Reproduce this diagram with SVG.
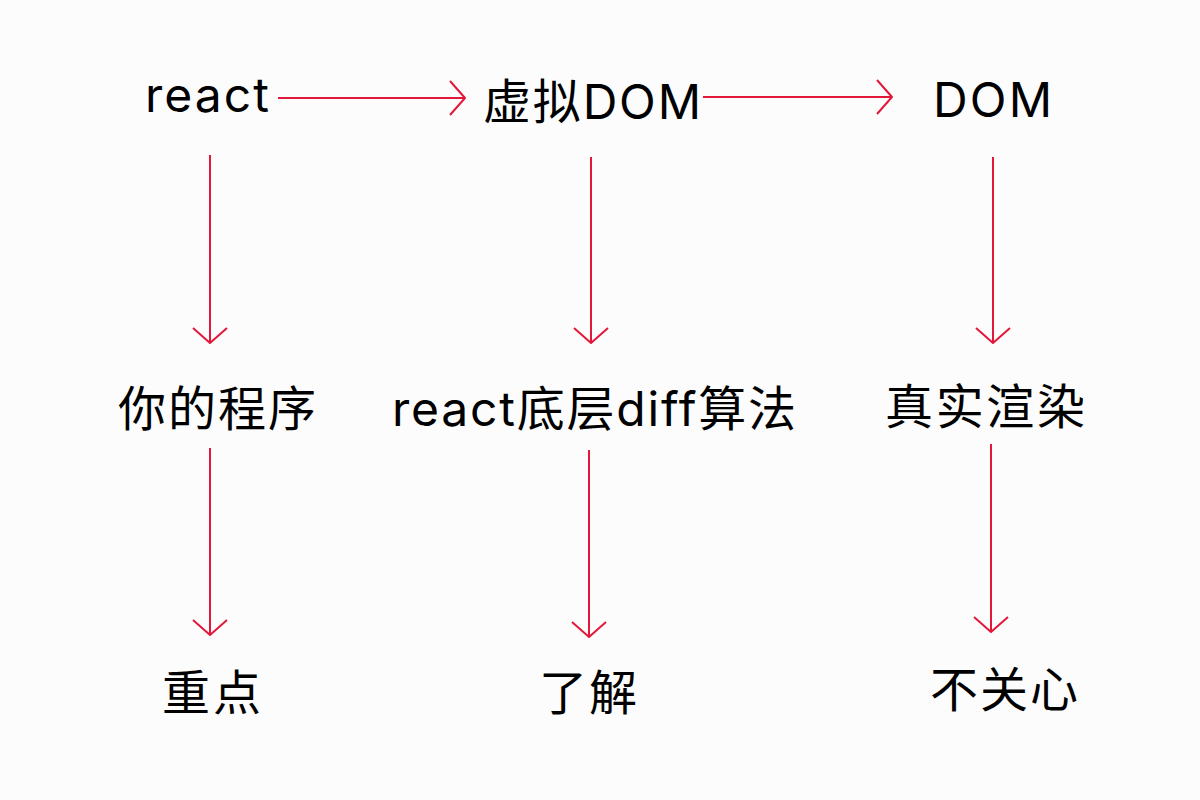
<svg xmlns="http://www.w3.org/2000/svg" width="1200" height="800" viewBox="0 0 1200 800">
  <style>
    .label { font-family: "Inter", "Noto Sans CJK SC", "Noto Sans", sans-serif; font-size: 48px; fill: #000000; }
    .conn { fill: none; stroke: #e2183b; stroke-width: 2; }
  </style>
  <defs>
    <marker id="vhead" markerUnits="userSpaceOnUse" markerWidth="40" markerHeight="40" viewBox="-20 -20 40 40" refX="0" refY="0" orient="auto" overflow="visible">
      <path d="M-15,-17 L0,0 L-15,17" fill="none" stroke="#e2183b" stroke-width="2" stroke-linejoin="round"/>
    </marker>
  </defs>
  <rect x="0" y="0" width="1200" height="800" fill="#fcfcfc"/>

  <g id="connectors">
    <path class="conn" d="M278,98 H465" marker-end="url(#vhead)"/>
    <path class="conn" d="M703,97 H892" marker-end="url(#vhead)"/>
    <path class="conn" d="M210,155 V343" marker-end="url(#vhead)"/>
    <path class="conn" d="M591,157 V343" marker-end="url(#vhead)"/>
    <path class="conn" d="M993,157 V343" marker-end="url(#vhead)"/>
    <path class="conn" d="M210,448 V635" marker-end="url(#vhead)"/>
    <path class="conn" d="M589,450 V637" marker-end="url(#vhead)"/>
    <path class="conn" d="M991,444 V632" marker-end="url(#vhead)"/>
  </g>

  <g id="node-react">
    <text class="label" x="145" y="112" textLength="124" lengthAdjust="spacing">react</text>
  </g>
  <g id="node-vdom">
    <text class="label" x="483" y="119" textLength="218" lengthAdjust="spacing">虚拟DOM</text>
  </g>
  <g id="node-dom">
    <text class="label" x="933" y="117" textLength="119" lengthAdjust="spacing">DOM</text>
  </g>
  <g id="node-program">
    <text class="label" x="118" y="426" textLength="198" lengthAdjust="spacing">你的程序</text>
  </g>
  <g id="node-diff">
    <text class="label" x="392" y="426" textLength="404" lengthAdjust="spacing">react底层diff算法</text>
  </g>
  <g id="node-render">
    <text class="label" x="885" y="424" textLength="200" lengthAdjust="spacing">真实渲染</text>
  </g>
  <g id="node-focus">
    <text class="label" x="162" y="710" textLength="99" lengthAdjust="spacing">重点</text>
  </g>
  <g id="node-understand">
    <text class="label" x="539" y="710" textLength="98" lengthAdjust="spacing">了解</text>
  </g>
  <g id="node-ignore">
    <text class="label" x="930" y="707" textLength="148" lengthAdjust="spacing">不关心</text>
  </g>
</svg>
